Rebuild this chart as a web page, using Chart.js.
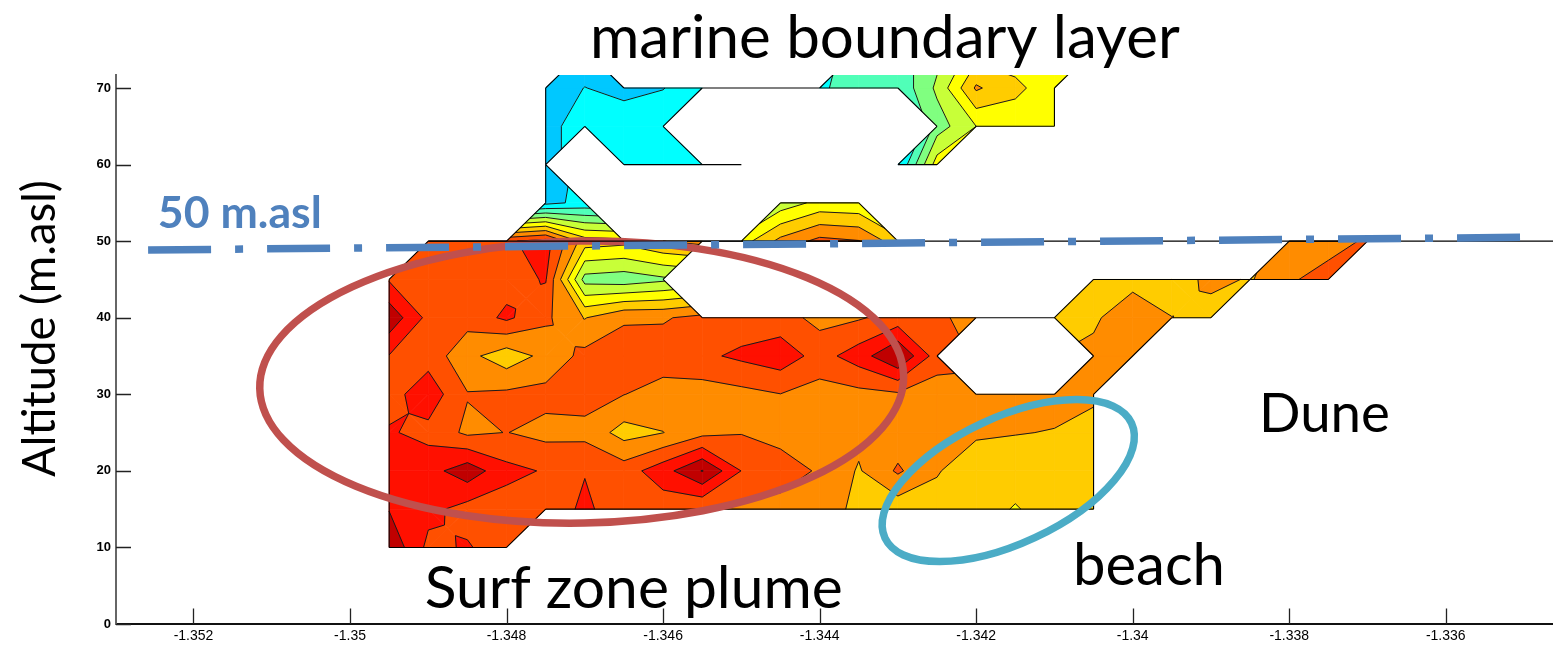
<!DOCTYPE html>
<html>
<head>
<meta charset="utf-8">
<script src="https://cdn.jsdelivr.net/npm/chart.js@4.4.0/dist/chart.umd.min.js"></script>
<style>
  html, body { margin: 0; padding: 0; background: #fff; }
  #wrap { width: 1553px; height: 646px; }
</style>
</head>
<body>
<div id="wrap"><canvas id="grafico" width="1553" height="646"></canvas></div>
<script>
// === Dados da grade (longitude x altitude), null = sem medição ===
const _ = null;
const longitudes = [-1.3495, -1.349, -1.3485, -1.348, -1.3475, -1.347, -1.3465, -1.346, -1.3455, -1.345,
  -1.3445, -1.344, -1.3435, -1.343, -1.3425, -1.342, -1.3415, -1.341, -1.3405, -1.34,
  -1.3395, -1.339, -1.3385, -1.338, -1.3375, -1.337];
const altitudes = [10, 15, 20, 25, 30, 35, 40, 45, 50, 55, 60, 65, 70, 75];

const alt10 = [11.8, 9.75, 10.1, 9.4, _, _, _, _, _, _, _, _, _, _, _, _, _, _, _, _, _, _, _, _, _, _];
const alt15 = [10.95, 10.3, 9.6, 9.5, 9.4, 10.2, 9.4, 9.4, 9.05, 8.8, 8.7, 8.4, 7.8, 7.4, 7.5, 7.3, 6.95, 7.3, 7.4, _, _, _, _, _, _, _];
const alt20 = [10.5, 10.6, 11.6, 10.3, 9.91, 9.95, 9.5, 10.6, 12.05, 9.98, 9.4, 8.9, 7.9, 9.15, 8.1, 7.2, 7.3, 7.4, 7.4, _, _, _, _, _, _, _];
const alt25 = [10.1, 9.7, 8.8, 9.02, 8.7, 8.7, 7.6, 7.98, 8.7, 8.95, 8.7, 8.4, 8.3, 8.4, 8.3, 8.2, 8.05, 7.95, 7.4, _, _, _, _, _, _, _];
const alt30 = [9.6, 10.6, 9.05, 9.2, 9.3, 9.4, 9.02, 8.6, 8.5, 8.7, 8.98, 8.6, 8.7, 8.85, 8.5, 8.4, 8.3, 8.4, 8.3, _, _, _, _, _, _, _];
const alt35 = [9.95, 9.6, 8.3, 7.4, 8.3, 9.3, 9.4, 9.5, 9.8, 10.2, 10.6, 9.6, 10.5, 12.02, 9.5, _, _, _, 8.3, 8.4, _, _, _, _, _, _];
const alt40 = [11.7, 9.7, 9.4, 10.2, 9.2, 7.95, 8.9, 8.9, 9.3, 9.4, 9.4, 8.7, 8.9, 9.4, 9.2, 8.6, 8.2, 7.5, 7.8, 8.8, 8.02, 7.5, _, _, _, _];
const alt45 = [9.9, 9.5, 9.5, 9.62, 10.08, 4.6, 4.4, 4.8, _, _, _, _, _, _, _, _, _, _, 7.4, 7.6, 7.4, 8.3, 7.9, 8.9, 9.3, _];
const alt50 = [_, 9.4, 9.5, 9.85, 10.4, 7.5, 7.3, 8.0, 8.3, 6.5, 8.3, 9.3, 9.05, 7.4, _, _, _, _, _, _, _, _, _, 8.5, 8.7, 9.1];
const alt55 = [_, _, _, _, 1.7, 2.3, _, _, _, _, 5.4, 6.3, 6.2, _, _, _, _, _, _, _, _, _, _, _, _, _];
const alt60 = [_, _, _, _, 1.6, _, 2.3, 2.4, 2.2, 2.2, _, _, _, 1.9, 6.5, _, _, _, _, _, _, _, _, _, _, _];
const alt65 = [_, _, _, _, 1.6, 2.6, 2.6, 2.4, _, _, _, _, _, _, 4.5, 6.0, 6.5, 6.3, _, _, _, _, _, _, _, _];
const alt70 = [_, _, _, _, 1.5, 2.02, 1.7, 1.98, 2.4, 2.5, 2.6, 2.9, 3.3, 3.2, 5.2, 8.15, 7.2, 6.5, _, _, _, _, _, _, _, _];
const alt75 = [_, _, _, _, _, 1.4, _, _, _, _, _, _, 3.2, 3.6, 4.6, 6.4, 6.5, 6.6, 6.5, _, _, _, _, _, _, _];
const grade = [alt10, alt15, alt20, alt25, alt30, alt35, alt40, alt45, alt50, alt55, alt60, alt65, alt70, alt75];

// cores das faixas (nível inteiro k -> faixa [k, k+1))
const coresNiveis = ['#0066ff', '#00c8ff', '#00ffff', '#50ffb8', '#80ff80', '#c8ff38', '#ffff00',
  '#ffcc00', '#ff8c00', '#ff5000', '#ff1000', '#c00000', '#8c0000'];

const ticksX = [-1.352, -1.35, -1.348, -1.346, -1.344, -1.342, -1.34, -1.338, -1.336];
const ticksY = [0, 10, 20, 30, 40, 50, 60, 70];

// linha de 50 m (traço-ponto) e topo do bloco
const linha50 = [{ x: -1.35258, y: 48.85 }, { x: -1.33499, y: 50.5 }];
const topoBloco = [{ x: -1.349, y: 50 }, { x: -1.33463, y: 50 }];

// === Anotações ===
const elipses = [
  { cx: -1.34704, cy: 31.6, rx: 322, ry: 141, rot: -0.02, cor: '#C0504D' },
  { cx: -1.34159, cy: 18.73, rx: 136, ry: 63, rot: -0.436, cor: '#4BACC6' }
];
const rotulos = [
  { texto: 'marine boundary layer', x: -1.346935, y: 73.89, largura: 590, peso: 'normal', cor: '#000' },
  { texto: 'Surf zone plume', x: -1.349044, y: 2.09, largura: 418, peso: 'normal', cor: '#000' },
  { texto: 'Dune', x: -1.338386, y: 25.07, largura: 131, peso: 'normal', cor: '#000' },
  { texto: 'beach', x: -1.340763, y: 5.09, largura: 152, peso: 'normal', cor: '#000' },
  { texto: '50 m.asl', x: -1.352456, y: 51.7, largura: 164, peso: 'bold', cor: '#4F81BD' }
];
const FONTE = 'Lato, "Noto Sans", sans-serif';

// === Contorno preenchido ===
function recortar(poly, nivel, acima) {
  const out = [];
  for (let i = 0; i < poly.length; i++) {
    const p = poly[i], q = poly[(i + 1) % poly.length];
    const pin = acima ? p.v >= nivel : p.v <= nivel;
    const qin = acima ? q.v >= nivel : q.v <= nivel;
    if (pin) out.push(p);
    if (pin !== qin) {
      const t = (nivel - p.v) / (q.v - p.v);
      out.push({ x: p.x + (q.x - p.x) * t, y: p.y + (q.y - p.y) * t, v: nivel, iso: nivel });
    }
  }
  return out;
}

// célula em sela: cantos opostos do mesmo lado de algum nível
function ehSela(anel) {
  const vs = anel.map(p => p.v);
  for (let L = Math.ceil(Math.min(...vs)); L <= Math.floor(Math.max(...vs)); L++) {
    const [a, b, c, d] = vs.map(v => v >= L);
    if (a === c && b === d && a !== b) return true;
  }
  return false;
}

const pluginContorno = {
  id: 'contorno',
  beforeDatasetsDraw(chart) {
    const { ctx, chartArea: a } = chart;
    const sx = chart.scales.x, sy = chart.scales.y;
    const nc = longitudes.length, nr = altitudes.length;
    const no = (i, j) => {
      if (i < 0 || j < 0 || i >= nc || j >= nr) return null;
      const v = grade[j][i];
      if (v == null) return null;
      return { x: sx.getPixelForValue(longitudes[i]), y: sy.getPixelForValue(altitudes[j]), v, i, j };
    };
    const chave = (p, q) => (p.i < q.i || (p.i === q.i && p.j < q.j)) ? `${p.i},${p.j}|${q.i},${q.j}` : `${q.i},${q.j}|${p.i},${p.j}`;
    const contagem = new Map();
    const polys = [], diagonais = [];

    for (let j = 0; j < nr - 1; j++) {
      for (let i = 0; i < nc - 1; i++) {
        const anel = [no(i, j), no(i + 1, j), no(i + 1, j + 1), no(i, j + 1)];
        const n = anel.filter(Boolean).length;
        if (n < 3) continue;
        if (n === 4) {
          if (ehSela(anel)) {
            const centro = {
              x: anel.reduce((s, p) => s + p.x, 0) / 4,
              y: anel.reduce((s, p) => s + p.y, 0) / 4,
              v: anel.reduce((s, p) => s + p.v, 0) / 4
            };
            for (let k = 0; k < 4; k++) polys.push([anel[k], anel[(k + 1) % 4], centro]);
          } else polys.push(anel);
        } else {
          const m = anel.findIndex(p => !p);
          const t = [anel[(m + 1) % 4], anel[(m + 2) % 4], anel[(m + 3) % 4]];
          polys.push(t);
          diagonais.push([t[0], t[2]]);
        }
        for (let k = 0; k < 4; k++) {
          const p = anel[k], q = anel[(k + 1) % 4];
          if (p && q) { const c = chave(p, q); contagem.set(c, (contagem.get(c) || 0) + 1); }
        }
      }
    }

    ctx.save();
    ctx.beginPath();
    ctx.rect(a.left, a.top, a.right - a.left, a.bottom - a.top);
    ctx.clip();
    ctx.lineJoin = 'round';

    const isolinhas = [];
    polys.forEach(poly => {
      const vs = poly.map(p => p.v);
      const lo = Math.floor(Math.min(...vs)), hi = Math.floor(Math.max(...vs));
      for (let k = lo; k <= hi; k++) {
        const faixa = recortar(recortar(poly, k, true), k + 1, false);
        if (faixa.length < 3) continue;
        const cor = coresNiveis[Math.max(0, Math.min(coresNiveis.length - 1, k))];
        ctx.beginPath();
        faixa.forEach((p, idx) => idx ? ctx.lineTo(p.x, p.y) : ctx.moveTo(p.x, p.y));
        ctx.closePath();
        ctx.fillStyle = cor;
        ctx.strokeStyle = cor;
        ctx.lineWidth = 0.8;
        ctx.fill();
        ctx.stroke();
        for (let s = 0; s < faixa.length; s++) {
          const p = faixa[s], q = faixa[(s + 1) % faixa.length];
          if (p.iso === k && q.iso === k) isolinhas.push([p, q]);
        }
      }
    });

    // linhas de contorno
    ctx.strokeStyle = '#1a1a1a';
    ctx.lineWidth = 1;
    ctx.beginPath();
    isolinhas.forEach(([p, q]) => { ctx.moveTo(p.x, p.y); ctx.lineTo(q.x, q.y); });
    ctx.stroke();

    // borda da região com dados
    ctx.strokeStyle = '#000';
    ctx.lineWidth = 1.1;
    ctx.beginPath();
    diagonais.forEach(([p, q]) => { ctx.moveTo(p.x, p.y); ctx.lineTo(q.x, q.y); });
    for (let j = 0; j < nr; j++) {
      for (let i = 0; i < nc; i++) {
        const p = no(i, j);
        if (!p) continue;
        [no(i + 1, j), no(i, j + 1)].forEach(q => {
          if (q && (contagem.get(chave(p, q)) || 0) < 2) { ctx.moveTo(p.x, p.y); ctx.lineTo(q.x, q.y); }
        });
      }
    }
    ctx.stroke();

    // elipses de destaque
    elipses.forEach(e => {
      ctx.beginPath();
      ctx.ellipse(sx.getPixelForValue(e.cx), sy.getPixelForValue(e.cy), e.rx, e.ry, e.rot, 0, Math.PI * 2);
      ctx.strokeStyle = e.cor;
      ctx.lineWidth = 7.5;
      ctx.stroke();
    });
    ctx.restore();
  }
};

function tamanhoAjustado(ctx, texto, peso, largura) {
  ctx.font = `${peso} 100px ${FONTE}`;
  return 100 * largura / ctx.measureText(texto).width;
}

const pluginAnotacoes = {
  id: 'anotacoes',
  afterDraw(chart) {
    const { ctx, chartArea: a } = chart;
    const sx = chart.scales.x, sy = chart.scales.y;
    ctx.save();
    // marcas dos eixos voltadas para dentro
    ctx.strokeStyle = '#222';
    ctx.lineWidth = 1.3;
    ctx.beginPath();
    ticksX.forEach(v => { const x = Math.round(sx.getPixelForValue(v)) + 0.5; ctx.moveTo(x, a.bottom); ctx.lineTo(x, a.bottom - 15.5); });
    ticksY.forEach(v => { const y = Math.round(sy.getPixelForValue(v)) + 0.5; ctx.moveTo(a.left, y); ctx.lineTo(a.left + 15, y); });
    ctx.stroke();

    // textos
    ctx.textAlign = 'left';
    ctx.textBaseline = 'alphabetic';
    rotulos.forEach(r => {
      const tam = tamanhoAjustado(ctx, r.texto, r.peso, r.largura);
      ctx.font = `${r.peso} ${tam}px ${FONTE}`;
      ctx.fillStyle = r.cor;
      ctx.fillText(r.texto, sx.getPixelForValue(r.x), sy.getPixelForValue(r.y));
    });

    // título do eixo y
    const tituloY = 'Altitude (m.asl)';
    const tam = tamanhoAjustado(ctx, tituloY, 'normal', 297);
    ctx.translate(55, 328.5);
    ctx.rotate(-Math.PI / 2);
    ctx.textAlign = 'center';
    ctx.font = `normal ${tam}px ${FONTE}`;
    ctx.fillStyle = '#000';
    ctx.fillText(tituloY, 0, 0);
    ctx.restore();
  }
};

new Chart(document.getElementById('grafico'), {
  type: 'scatter',
  data: {
    datasets: [
      {
        label: '50 m.asl',
        data: linha50,
        showLine: true,
        borderColor: '#4F81BD',
        borderWidth: 7.5,
        borderDash: [63, 24, 8, 24],
        pointRadius: 0,
        fill: false
      },
      {
        label: 'topo',
        data: topoBloco,
        showLine: true,
        borderColor: '#000',
        borderWidth: 1.3,
        pointRadius: 0,
        fill: false
      }
    ]
  },
  options: {
    responsive: false,
    animation: false,
    layout: { padding: { top: 75, right: 0, left: 0, bottom: 0 } },
    plugins: { legend: { display: false }, tooltip: { enabled: false } },
    scales: {
      x: {
        type: 'linear',
        min: -1.35299,
        max: -1.33463,
        afterBuildTicks: s => { s.ticks = ticksX.map(v => ({ value: v })); },
        afterFit: s => { s.height = 22; },
        grid: { display: false, drawTicks: false },
        border: { display: true, color: '#111', width: 2 },
        ticks: {
          color: '#000',
          padding: 4,
          maxRotation: 0,
          autoSkip: false,
          font: { family: '"Liberation Sans", Arial, sans-serif', size: 14 },
          callback: v => String(+v.toFixed(3))
        }
      },
      y: {
        type: 'linear',
        min: 0,
        max: 71.7,
        afterBuildTicks: s => { s.ticks = ticksY.map(v => ({ value: v })); },
        afterFit: s => { s.width = 116; },
        grid: { display: false, drawTicks: false },
        border: { display: true, color: '#666', width: 2 },
        ticks: {
          color: '#000',
          padding: 5,
          font: { family: '"Liberation Sans", Arial, sans-serif', size: 13, weight: 'bold' },
          callback: v => String(v)
        }
      }
    }
  },
  plugins: [pluginContorno, pluginAnotacoes]
});
</script>
</body>
</html>
